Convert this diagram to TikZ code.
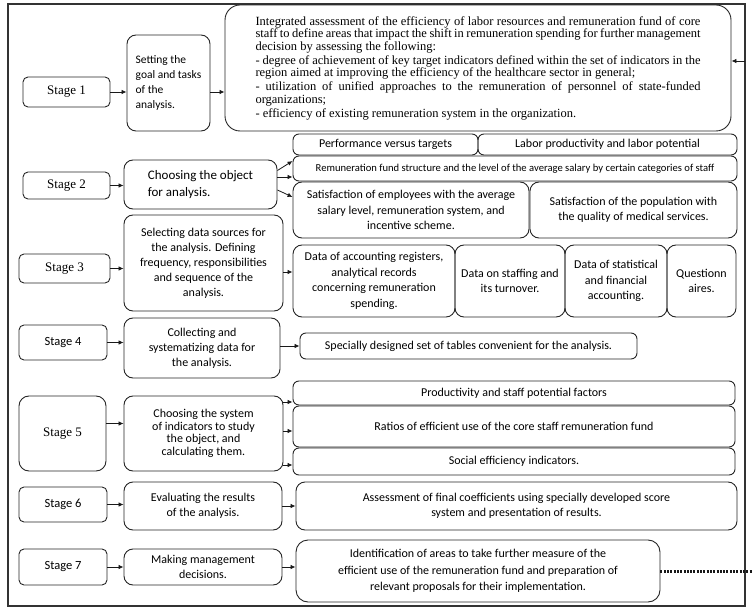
\documentclass[tikz,border=0pt]{standalone}
\usepackage{fontspec}
\setmainfont{Liberation Serif}
\newfontfamily\calib{Carlito}
\usetikzlibrary{arrows.meta}
\newcommand\JL[1]{\hbox to 445pt{#1}}
\begin{document}
\begin{tikzpicture}[x=1pt,y=-1pt,
 bx/.style={draw=black!85, line width=0.9pt, rounded corners=6pt, align=center, inner sep=1pt, text=black},
 sz/.style 2 args={minimum width=#1pt, minimum height=#2pt},
 stgS/.style={bx, rounded corners=5pt, font=\fontsize{13}{15}\selectfont},
 stgC/.style={bx, rounded corners=5pt, font=\calib\fontsize{12.5}{15}\selectfont},
 stepbx/.style={bx, rounded corners=9pt, font=\calib\fontsize{12}{15}\selectfont},
 res/.style={bx, rounded corners=6pt, font=\calib\fontsize{12}{15.5}\selectfont},
 arr/.style={draw=black!90, line width=0.8pt, -{Latex[length=5pt,width=4.5pt]}},
 dotl/.style={draw=black!90, line width=3pt, dash pattern=on 2pt off 1.3pt},
]
\useasboundingbox (0,0) rectangle (752,612);
\node[draw=black!80, line width=1.2pt, inner sep=0pt, sz={737}{602}] (frame) at (376.5,305) {};

% Row 1
\node[stgS, sz={87}{30}] (s1) at (66.5,92) {Stage 1};
\node[stepbx, sz={83}{96}, align=left, font=\calib\fontsize{11.5}{15}\selectfont] (g1) at (168.5,83) {Setting the\\goal and tasks\\of the\\analysis.};
\node[bx, rounded corners=15pt, sz={506}{126}, font=\fontsize{12.5}{12.5}\selectfont] (big) at (478,68) {\parbox{445pt}{\fontsize{12.5}{12.5}\selectfont
\JL{Integrated assessment of the efficiency of labor resources and remuneration fund of core}
\JL{staff to define areas that impact the shift in remuneration spending for further management}
\hbox{decision by assessing the following:}\vspace{1.5pt}
\JL{- degree of achievement of key target indicators defined within the set of indicators in the}
\hbox{region aimed at improving the efficiency of the healthcare sector in general;}\vspace{1.5pt}
\JL{- utilization of unified approaches to the remuneration of personnel of state-funded}
\hbox{organizations;}\vspace{1.5pt}
\hbox{- efficiency of existing remuneration system in the organization.}}};
\coordinate (rin) at (745,61);

% Row 2
\node[stgS, sz={87}{27}] (s2) at (66.5,185.5) {Stage 2};
\node[stepbx, sz={153}{49}, align=left, font=\calib\fontsize{13}{17}\selectfont] (g2) at (200.5,184.5) {Choosing the object\\for analysis.};
\node[res, sz={185}{21}] (perf) at (385.5,144.5) {Performance versus targets};
\node[res, sz={259}{21}] (labor) at (607.5,144.5) {Labor productivity and labor potential};
\node[res, sz={444}{25}, font=\calib\fontsize{10.6}{12}\selectfont] (remf) at (515,168.5) {Remuneration fund structure and the level of the average salary by certain categories of staff};
\node[res, sz={236}{56}, rounded corners=9pt] (satE) at (411,210) {Satisfaction of employees with the average\\salary level, remuneration system, and\\incentive scheme.};
\node[res, sz={207}{56}, rounded corners=9pt] (satP) at (633.5,210) {Satisfaction of the population with\\the quality of medical services.};

% Row 3
\node[stgS, sz={91}{29}] (s3) at (64.5,268.5) {Stage 3};
\node[stepbx, sz={159}{96}] (g3) at (203.5,263) {Selecting data sources for\\the analysis. Defining\\frequency, responsibilities\\and sequence of the\\analysis.};
\node[res, sz={162}{72}, rounded corners=9pt] (d1) at (374,281) {Data of accounting registers,\\analytical records\\concerning remuneration\\spending.};
\node[res, sz={110}{72}, rounded corners=9pt] (d2) at (510,281) {Data on staffing and\\its turnover.};
\node[res, sz={102}{72}, rounded corners=9pt] (d3) at (616,281) {Data of statistical\\and financial\\accounting.};
\node[res, sz={69}{72}, rounded corners=9pt] (d4) at (701.5,281) {Questionn\\aires.};

% Row 4
\node[stgC, sz={88}{35}] (s4) at (63,342.5) {Stage 4};
\node[stepbx, sz={156}{60}] (g4) at (202,348) {Collecting and\\systematizing data for\\the analysis.};
\node[res, sz={337}{26}] (spec) at (468.5,346) {Specially designed set of tables convenient for the analysis.};

% Row 5
\node[stgS, sz={87}{75}, rounded corners=10pt] (s5) at (62.5,433.5) {Stage 5};
\node[stepbx, sz={159}{75}, font=\calib\fontsize{12}{12.5}\selectfont] (g5) at (203.5,433.5) {Choosing the system\\of indicators to study\\the object, and\\calculating them.};
\node[res, sz={442}{24}] (prod) at (514,393) {Productivity and staff potential factors};
\node[res, sz={442}{41}] (ratio) at (514,426.5) {Ratios of efficient use of the core staff remuneration fund};
\node[res, sz={442}{27}] (social) at (514,461.5) {Social efficiency indicators.};

% Row 6
\node[stgC, sz={88}{35}] (s6) at (63,504.5) {Stage 6};
\node[stepbx, sz={158}{48}] (g6) at (203,506) {Evaluating the results\\of the analysis.};
\node[res, sz={441}{48}, rounded corners=9pt] (assess) at (516.5,506) {Assessment of final coefficients using specially developed score\\system and presentation of results.};

% Row 7
\node[stgC, sz={88}{36}] (s7) at (63,567) {Stage 7};
\node[stepbx, sz={158}{36}] (g7) at (203,567) {Making management\\decisions.};
\node[res, sz={364}{62}, rounded corners=12pt, font=\calib\fontsize{12}{16.5}\selectfont] (ident) at (478,571) {Identification of areas to take further measure of the\\efficient use of the remuneration fund and preparation of\\relevant proposals for their implementation.};
\coordinate (dend) at (752,570);

% Connectors
\draw[arr] (s1.east) -- (s1.east -| g1.west);
\draw[arr] (s1.east -| g1.east) -- (s1.east -| big.west);
\draw[arr] (rin) -- (rin -| big.east);
\draw[arr] (s2.east) -- (s2.east -| g2.west);
\draw[arr] ([yshift=14pt]g2.east) -- ([yshift=7.5pt]remf.west);
\draw[arr] ([yshift=7.5pt]g2.east) -- ([yshift=-8.5pt]remf.west);
\draw[arr] ([yshift=-5.5pt]g2.east) -- ([yshift=13pt]satE.west);
\draw[arr] (s3.east) -- (s3.east -| g3.west);
\draw[arr] ([yshift=9pt]d1.west -| g3.east) -- ([yshift=9pt]d1.west);
\draw[arr] (s4.east) -- (s4.east -| g4.west);
\draw[arr] (spec.west -| g4.east) -- (spec.west);
\draw[arr] ([yshift=10pt]s5.east) -- ([yshift=10pt]s5.east -| g5.west);
\draw[arr] ([yshift=-9pt]prod.west -| g5.east) -- ([yshift=-9pt]prod.west);
\draw[arr] ([yshift=-4.5pt]ratio.west -| g5.east) -- ([yshift=-4.5pt]ratio.west);
\draw[arr] ([yshift=-3.5pt]social.west -| g5.east) -- ([yshift=-3.5pt]social.west);
\draw[arr] (s6.east) -- (s6.east -| g6.west);
\draw[arr] (assess.west -| g6.east) -- (assess.west);
\draw[arr] (s7.east) -- (s7.east -| g7.west);
\draw[arr] (g7.east) -- (g7.east -| ident.west);
\draw[dotl] (ident.east) -- (ident.east -| dend);
\end{tikzpicture}
\end{document}
